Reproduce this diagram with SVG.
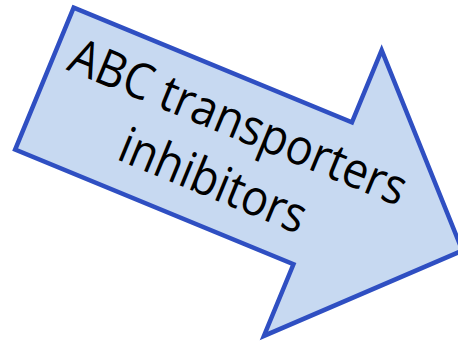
<svg xmlns="http://www.w3.org/2000/svg" width="458" height="341" viewBox="0 0 458 341">
  <style>
    .arrow { fill: #C7D9F1; stroke: #2F4FC2; stroke-width: 4.5; stroke-linejoin: miter; stroke-miterlimit: 10; }
    .lbl { font-family: "Open Sans", "Noto Sans", "Liberation Sans", sans-serif; font-size: 50px; fill: #000; text-anchor: middle; }
  </style>
  <rect width="458" height="341" fill="#FFFFFF"/>
  <g id="arrow-node" transform="rotate(22.4)">
    <polygon class="arrow" points="71,-21 372,-21 372,-99 523,55.5 372,210 372,132.5 71,132.5"/>
    <text class="lbl" x="267" y="39" textLength="360" lengthAdjust="spacingAndGlyphs">ABC transporters</text>
    <text class="lbl" x="266" y="103" textLength="198" lengthAdjust="spacingAndGlyphs">inhibitors</text>
  </g>
  <g id="connectors"/>
</svg>
